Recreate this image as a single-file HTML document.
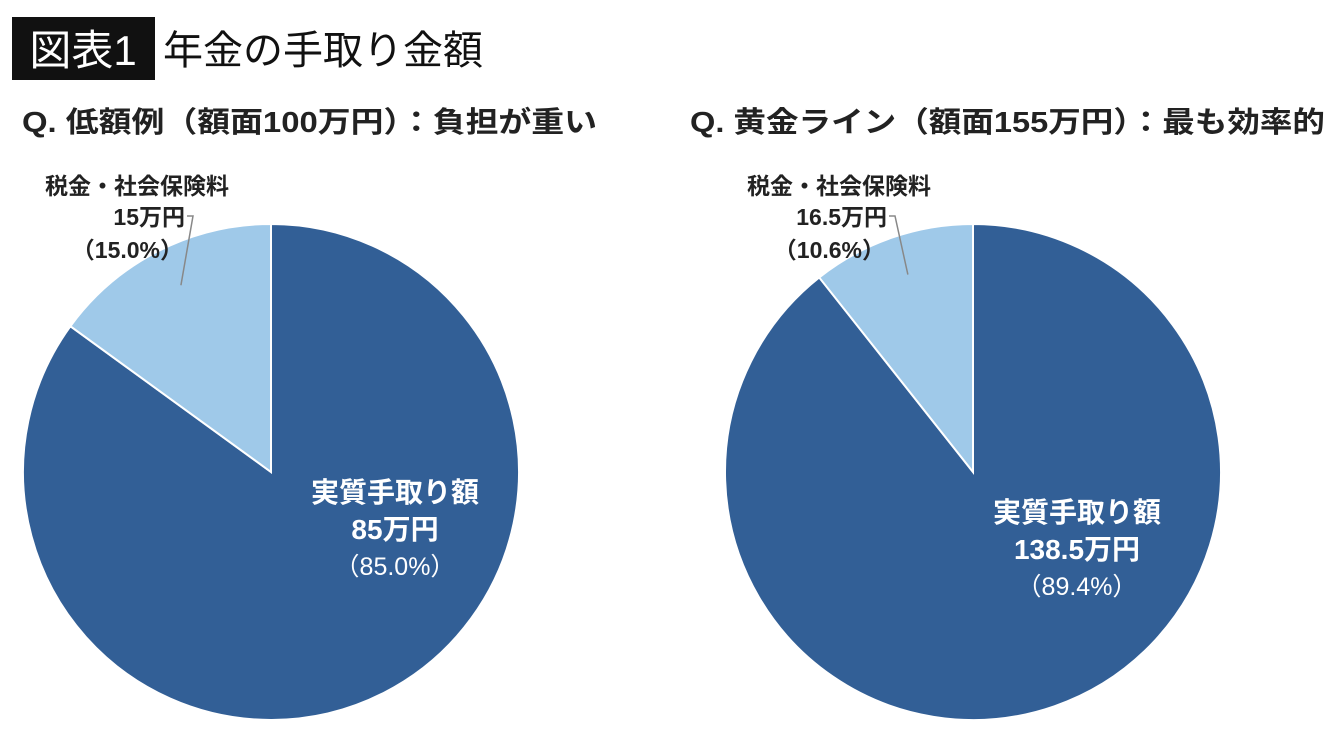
<!DOCTYPE html>
<html><head><meta charset="utf-8"><style>
body{margin:0;background:#fff;}
svg{display:block;font-family:"Liberation Sans","Noto Sans CJK JP",sans-serif;}
</style></head><body>
<svg id="c" width="1340" height="740" viewBox="0 0 1340 740">
<rect x="12" y="17" width="143" height="63" fill="#111"/>
<text x="83" y="65" font-size="42" fill="#fff" text-anchor="middle">図表1</text>
<text x="163" y="64" font-size="40" fill="#111">年金の手取り金額</text>
<text x="22" y="132" font-size="29" font-weight="bold" fill="#222" textLength="575" lengthAdjust="spacingAndGlyphs">Q. 低額例（額面100万円）：負担が重い</text>
<text x="690" y="132" font-size="29" font-weight="bold" fill="#222" textLength="635" lengthAdjust="spacingAndGlyphs">Q. 黄金ライン（額面155万円）：最も効率的</text>
<g id="pies"></g>
</svg>
<script>
const pieNames = ["left-pie","right-pie"];
const takeHome = [85, 138.5];
const deduction = [15, 16.5];
const takeHomeLabels = ["85万円","138.5万円"];
const takeHomePct = ["（85.0%）","（89.4%）"];
const deductionLabels = ["15万円","16.5万円"];
const deductionPct = ["（15.0%）","（10.6%）"];
const NS="http://www.w3.org/2000/svg";
const g=document.getElementById('pies');
const centers=[[271,472],[973,472]], R=248;
const innerOffset=[[124,18],[104,38]];
function mk(t,a,p){const e=document.createElementNS(NS,t);for(const k in a)e.setAttribute(k,a[k]);(p||g).appendChild(e);return e;}
function pt(cx,cy,r,frac){const a=frac*2*Math.PI;return [cx+r*Math.sin(a),cy-r*Math.cos(a)];}
for(let i=0;i<2;i++){
  const [cx,cy]=centers[i];
  const tot=takeHome[i]+deduction[i];
  const f=takeHome[i]/tot;
  const grp=mk('g',{});
  
  
  const p1=pt(cx,cy,R,f);
  const big=mk('path',{d:`M${cx},${cy}L${cx},${cy-R}A${R},${R} 0 ${f>0.5?1:0} 1 ${p1[0]},${p1[1]}Z`,fill:'#325f96',stroke:'#fff','stroke-width':2},grp);
  
  
  const small=mk('path',{d:`M${cx},${cy}L${p1[0]},${p1[1]}A${R},${R} 0 ${f<0.5?1:0} 1 ${cx},${cy-R}Z`,fill:'#9fc9e9',stroke:'#fff','stroke-width':2},grp);
  
  
  const lx=cx+innerOffset[i][0], ly=cy+innerOffset[i][1]+12;
  [["実質手取り額",0],[takeHomeLabels[i],37],[takeHomePct[i],73]].forEach(([t,dy],k)=>{
    const e=mk('text',{x:lx,y:ly+dy,'font-size':k==2?25:28,'font-weight':k==2?'normal':'bold',fill:'#fff','text-anchor':'middle'},grp);
    e.textContent=t;
    
    
  });
  const mid=pt(cx,cy,R*0.8,f+(1-f)/2);
  const t1=mk('text',{x:cx-134,y:194,'font-size':23,'font-weight':'bold',fill:'#222','text-anchor':'middle'},grp);
  t1.textContent="税金・社会保険料";
  
  
  const t2=mk('text',{x:cx-86,y:225,'font-size':23,'font-weight':'bold',fill:'#222','text-anchor':'end'},grp);
  t2.textContent=deductionLabels[i];
  
  
  const t3=mk('text',{x:cx-88,y:258,'font-size':23,'font-weight':'bold',fill:'#222','text-anchor':'end'},grp);
  t3.textContent=deductionPct[i];
  
  
  const ln=mk('polyline',{points:`${cx-84},216 ${cx-78},216 ${mid[0]},${mid[1]-10}`,fill:'none',stroke:'#888','stroke-width':1.5},grp);
  
  
}
</script>
</body></html>
